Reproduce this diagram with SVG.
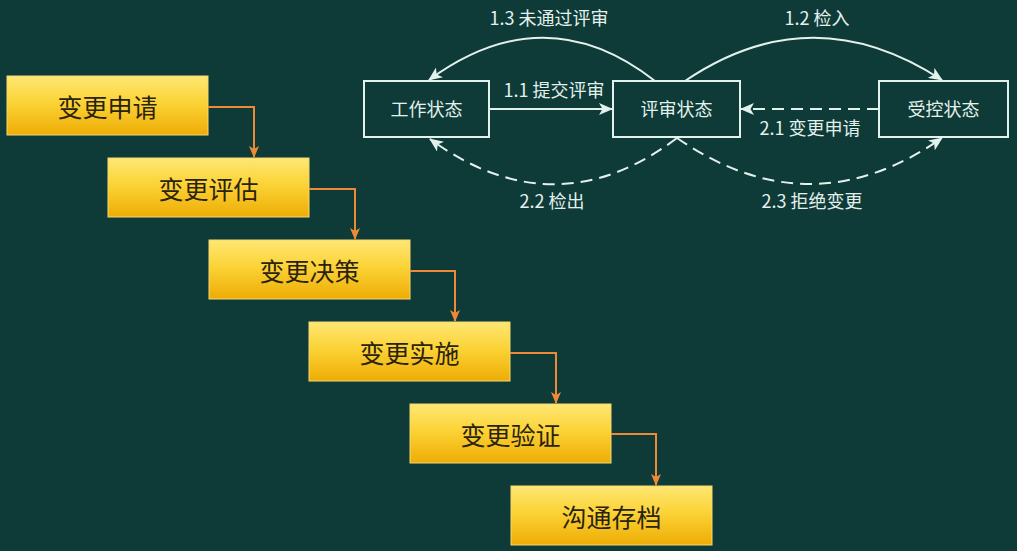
<svg xmlns="http://www.w3.org/2000/svg" width="1017" height="551" viewBox="0 0 1017 551">
  <defs>
    <linearGradient id="gold" x1="0" y1="0" x2="0" y2="1">
      <stop offset="0" stop-color="#fee774"/>
      <stop offset="0.45" stop-color="#fbd336"/>
      <stop offset="1" stop-color="#eeac05"/>
    </linearGradient>
    <marker id="arrW" viewBox="0 0 14 12" refX="13" refY="6" markerWidth="14" markerHeight="12" markerUnits="userSpaceOnUse" orient="auto">
      <path d="M0,0 L14,6 L0,12 L3.5,6 z" fill="#e3f1ed"/>
    </marker>
    <marker id="arrO" viewBox="0 0 12 10" refX="11" refY="5" markerWidth="12" markerHeight="10" markerUnits="userSpaceOnUse" orient="auto">
      <path d="M0,0 L12,5 L0,10 L3,5 z" fill="#ee8a36"/>
    </marker>
    <style>
      .step rect { fill: url(#gold); stroke: #f7d870; stroke-width: 1; }
      .step text { font-family: "Noto Sans CJK SC", "Noto Sans", sans-serif; font-size: 25px; fill: #2a2310; text-anchor: middle; }
      .state rect { fill: none; stroke: #e3f1ed; stroke-width: 2; }
      .state text, .lbl { font-family: "Noto Sans CJK SC", "Noto Sans", sans-serif; font-size: 18px; fill: #e3f1ed; text-anchor: middle; }
      .flow { fill: none; stroke: #ee8a36; stroke-width: 2; marker-end: url(#arrO); }
      .solid { fill: none; stroke: #e3f1ed; stroke-width: 2; marker-end: url(#arrW); }
      .dash { fill: none; stroke: #e3f1ed; stroke-width: 2; stroke-dasharray: 12 7; marker-end: url(#arrW); }
    </style>
  </defs>

  <rect width="1017" height="551" fill="#0e3a37"/>

  <!-- process steps -->
  <g id="step-apply" class="step"><rect x="7" y="76" width="201" height="59"/><text x="107.5" y="117">变更申请</text></g>
  <g id="step-assess" class="step"><rect x="108" y="158" width="201" height="59"/><text x="208.5" y="199">变更评估</text></g>
  <g id="step-decide" class="step"><rect x="209" y="240" width="201" height="59"/><text x="309.5" y="281">变更决策</text></g>
  <g id="step-implement" class="step"><rect x="309" y="322" width="201" height="59"/><text x="409.5" y="363">变更实施</text></g>
  <g id="step-verify" class="step"><rect x="410" y="404" width="201" height="59"/><text x="510.5" y="445">变更验证</text></g>
  <g id="step-archive" class="step"><rect x="511" y="486" width="201" height="59"/><text x="611.5" y="527">沟通存档</text></g>

  <!-- states -->
  <g id="state-work" class="state"><rect x="364" y="81" width="125" height="56"/><text x="426.5" y="116">工作状态</text></g>
  <g id="state-review" class="state"><rect x="613" y="81" width="127" height="56"/><text x="676.5" y="116">评审状态</text></g>
  <g id="state-controlled" class="state"><rect x="879" y="81" width="129" height="56"/><text x="943.5" y="116">受控状态</text></g>

  <!-- connectors -->
  <g id="connectors">
    <path class="flow" d="M208,107 H254 V157"/>
    <path class="flow" d="M309,189 H355 V239"/>
    <path class="flow" d="M410,271 H455 V321"/>
    <path class="flow" d="M510,353 H556 V403"/>
    <path class="flow" d="M611,434 H656 V485"/>

    <path class="solid" d="M489,109 L612,109"/>
    <path class="solid" d="M655,81 Q545,-5 429,80"/>
    <path class="solid" d="M685,81 Q812,-5 942,80"/>
    <path class="dash" d="M879,109 L741,109"/>
    <path class="dash" d="M677,138 Q555,230 430,139"/>
    <path class="dash" d="M677,138 Q810,230 942,138"/>

    <text class="lbl" x="554" y="97">1.1 提交评审</text>
    <text class="lbl" x="549" y="25">1.3 未通过评审</text>
    <text class="lbl" x="817" y="25">1.2 检入</text>
    <text class="lbl" x="810" y="135">2.1 变更申请</text>
    <text class="lbl" x="552" y="208">2.2 检出</text>
    <text class="lbl" x="812" y="208">2.3 拒绝变更</text>
  </g>
</svg>
